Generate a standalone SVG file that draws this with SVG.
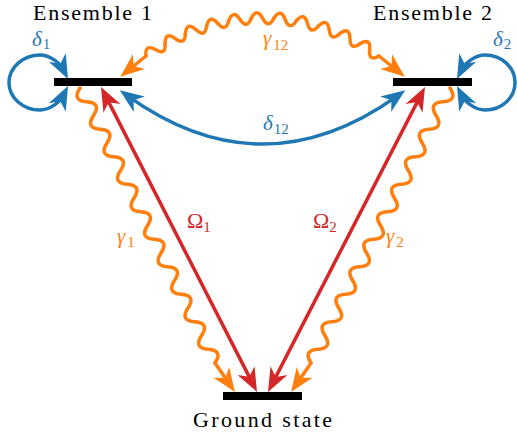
<svg xmlns="http://www.w3.org/2000/svg" width="517" height="439" viewBox="0 0 517 439" font-family="Liberation Serif">
<style>
text, tspan { font-family: Liberation Serif, serif !important; }
</style>
<defs>
<marker id="arB" markerUnits="userSpaceOnUse" viewBox="-26 -11 28 22" refX="-10" refY="0" markerWidth="28" markerHeight="22" orient="auto-start-reverse">
<path d="M0,0 L-24,-9.5 L-17,0 L-24,9.5 Z" fill="#1f77b4"/>
</marker>
<marker id="arO" markerUnits="userSpaceOnUse" viewBox="-26 -11 28 22" refX="-10" refY="0" markerWidth="28" markerHeight="22" orient="auto-start-reverse">
<path d="M0,0 L-24,-9.5 L-17,0 L-24,9.5 Z" fill="#ff7f0e"/>
</marker>
<marker id="arR" markerUnits="userSpaceOnUse" viewBox="-26 -11 28 22" refX="-10" refY="0" markerWidth="28" markerHeight="22" orient="auto-start-reverse">
<path d="M0,0 L-24,-9.5 L-17,0 L-24,9.5 Z" fill="#d62728"/>
</marker>
<path id="wseg" d="M251.18,18.32 Q256.84,7.16 262.5,18 Q268.16,29.16 273.82,18.32"/>
</defs>
<rect width="517" height="439" fill="#fff"/>

<g id="connectors" fill="none" stroke-width="3.5">
<g id="loop1" stroke="#1f77b4">
<path marker-start="url(#arB)" marker-end="url(#arB)" d="M63.53,70.06 C59.95,62.91 50,55 40,55 C23,55 9,67.5 9,82.5 C9,97.7 23,110 40,110 C50,110 59.95,102.09 63.53,94.94"/>
</g>
<g id="loop2" stroke="#1f77b4">
<path marker-start="url(#arB)" marker-end="url(#arB)" d="M461.47,70.06 C465.05,62.91 475,55 485,55 C502,55 515,67.5 515,82.5 C515,97.7 502,110 485,110 C475,110 465.05,102.09 461.47,94.94"/>
</g>
<g id="delta12" stroke="#1f77b4">
<path marker-start="url(#arB)" marker-end="url(#arB)" d="M127.9,96.1 Q262.5,192 397.1,96.1"/>
</g>
<g id="gamma12" stroke="#ff7f0e" stroke-linecap="round" stroke-linejoin="round">
<use href="#wseg" transform="rotate(-32.845 262.5 215.6)"/>
<use href="#wseg" transform="rotate(-26.276 262.5 215.6)"/>
<use href="#wseg" transform="rotate(-19.707 262.5 215.6)"/>
<use href="#wseg" transform="rotate(-13.138 262.5 215.6)"/>
<use href="#wseg" transform="rotate(-6.569 262.5 215.6)"/>
<use href="#wseg"/>
<use href="#wseg" transform="rotate(6.569 262.5 215.6)"/>
<use href="#wseg" transform="rotate(13.138 262.5 215.6)"/>
<use href="#wseg" transform="rotate(19.707 262.5 215.6)"/>
<use href="#wseg" transform="rotate(26.276 262.5 215.6)"/>
<use href="#wseg" transform="rotate(32.845 262.5 215.6)"/>
<path marker-end="url(#arO)" d="M146,56 L128,70.5"/>
<path marker-end="url(#arO)" d="M379,56 L397,70.5"/>
</g>
<g id="omega1" stroke="#d62728">
<path marker-start="url(#arR)" marker-end="url(#arR)" d="M105.55,95.9 L252.45,383.1"/>
</g>
<g id="omega2" stroke="#d62728">
<path marker-start="url(#arR)" marker-end="url(#arR)" d="M420.42,95.89 L272.58,383.11"/>
</g>
<g id="gamma1" stroke="#ff7f0e" stroke-linecap="round" stroke-linejoin="round">
<path transform="translate(80,88) rotate(63.85)" d="M0,0 q7.66,13 15.32,0 t15.32,0 t15.32,0 t15.32,0 t15.32,0 t15.32,0 t15.32,0 t15.32,0 t15.32,0 t15.32,0 t15.32,0 t15.32,0 t15.32,0 t15.32,0 t15.32,0 t15.32,0 t15.32,0 t15.32,0 t15.32,0 t15.32,0"/>
<path marker-end="url(#arO)" d="M215,363 L229.3,383.8"/>
</g>
<g id="gamma2" stroke="#ff7f0e" stroke-linecap="round" stroke-linejoin="round">
<path transform="translate(450,88) rotate(116.82)" d="M0,0 q7.70,-13 15.405,0 t15.405,0 t15.405,0 t15.405,0 t15.405,0 t15.405,0 t15.405,0 t15.405,0 t15.405,0 t15.405,0 t15.405,0 t15.405,0 t15.405,0 t15.405,0 t15.405,0 t15.405,0 t15.405,0 t15.405,0 t15.405,0 t15.405,0"/>
<path marker-end="url(#arO)" d="M311,363 L296.7,383.8"/>
</g>
</g>

<g id="ensemble1">
<rect x="54" y="78" width="78" height="8" fill="#000"/>
<text style="font-family:Liberation Serif !important" font-size="22" x="33" y="20" textLength="119">Ensemble 1</text>
</g>
<g id="ensemble2">
<rect x="393" y="78" width="79" height="8" fill="#000"/>
<text style="font-family:Liberation Serif !important" font-size="22" x="373" y="20" textLength="119">Ensemble 2</text>
</g>
<g id="ground">
<rect x="223" y="392" width="79" height="8" fill="#000"/>
<text style="font-family:Liberation Serif !important" font-size="22" x="193" y="427" textLength="139">Ground state</text>
</g>

<g id="labels">
<text style="font-family:Liberation Serif !important" font-size="21" x="32" y="46" fill="#1f77b4"><tspan font-style="italic">δ</tspan><tspan font-size="15" dx="1" dy="3">1</tspan></text>
<text style="font-family:Liberation Serif !important" font-size="21" x="493" y="46" fill="#1f77b4"><tspan font-style="italic">δ</tspan><tspan font-size="15" dx="1" dy="3">2</tspan></text>
<text style="font-family:Liberation Serif !important" font-size="21" x="263" y="45" fill="#ff7f0e"><tspan font-style="italic">γ</tspan><tspan font-size="15" dx="2" dy="5">12</tspan></text>
<text style="font-family:Liberation Serif !important" font-size="21" x="263" y="130" fill="#1f77b4"><tspan font-style="italic">δ</tspan><tspan font-size="15" dx="1" dy="4">12</tspan></text>
<text style="font-family:Liberation Serif !important" font-size="21" x="117" y="243" fill="#ff7f0e"><tspan font-style="italic">γ</tspan><tspan font-size="15" dx="2" dy="4">1</tspan></text>
<text style="font-family:Liberation Serif !important" font-size="21" x="386" y="243" fill="#ff7f0e"><tspan font-style="italic">γ</tspan><tspan font-size="15" dx="2" dy="4">2</tspan></text>
<text style="font-family:Liberation Serif !important" font-size="22" x="187" y="228" fill="#d62728">Ω<tspan font-size="15" dy="4">1</tspan></text>
<text style="font-family:Liberation Serif !important" font-size="22" x="313" y="228" fill="#d62728">Ω<tspan font-size="15" dy="4">2</tspan></text>
</g>
</svg>
